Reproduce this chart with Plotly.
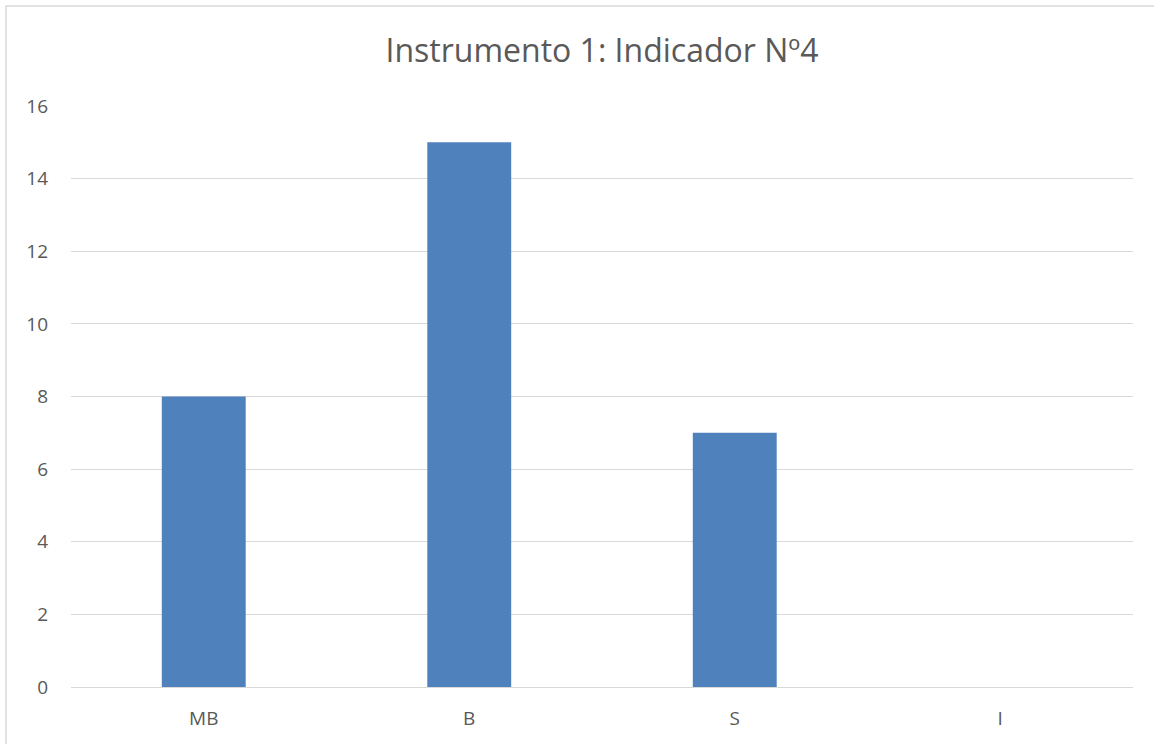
import plotly.graph_objects as go

categories = ["MB", "B", "S", "I"]
values = [8, 15, 7, 0]
title_text = "Instrumento 1: Indicador Nº4"
y_ticks = [0, 2, 4, 6, 8, 10, 12, 14, 16]

W, H = 1154, 744
L, R, T, B = 71, 21, 106, 57
pw = W - L - R
ph = H - T - B

FONT = "Open Sans, Liberation Sans, sans-serif"

fig = go.Figure(go.Bar(x=categories, y=values, marker=dict(color="#4f81bd", line=dict(width=0)),
                       hoverinfo="x+y"))

def px_x(x):
    return (x - L) / pw

def px_y(y):
    return (H - B - y) / ph

fig.update_layout(
    width=W, height=H,
    margin=dict(l=L, r=R, t=T, b=B, autoexpand=False),
    paper_bgcolor="white", plot_bgcolor="white",
    bargap=0.684,
    title=dict(text=title_text, x=0.5, xref="paper", xanchor="center", y=1 - 51 / H, yanchor="middle",
               font=dict(family=FONT, size=32, color="#595959")),
    font=dict(family=FONT, size=19, color="#595959"),
    xaxis=dict(showgrid=False, showline=False, ticks="", tickfont=dict(size=19, color="#595959"),
               ticklabelstandoff=18),
    yaxis=dict(range=[0, 16], tickvals=y_ticks, showgrid=True, gridcolor="#d9d9d9", gridwidth=1.3,
               zeroline=True, zerolinecolor="#d9d9d9", zerolinewidth=1.3, showline=False,
               ticks="", tickfont=dict(size=19, color="#595959"), ticklabelstandoff=22),
    shapes=[dict(type="rect", xref="paper", yref="paper",
                 x0=px_x(6), x1=px_x(1160), y0=px_y(760), y1=px_y(6),
                 line=dict(color="#d9d9d9", width=1.5), fillcolor="rgba(0,0,0,0)", layer="below")],
    showlegend=False,
)

fig.write_html("out.html", config={"displayModeBar": False},
               post_script="document.body.style.margin='0';document.body.style.overflow='hidden';")
